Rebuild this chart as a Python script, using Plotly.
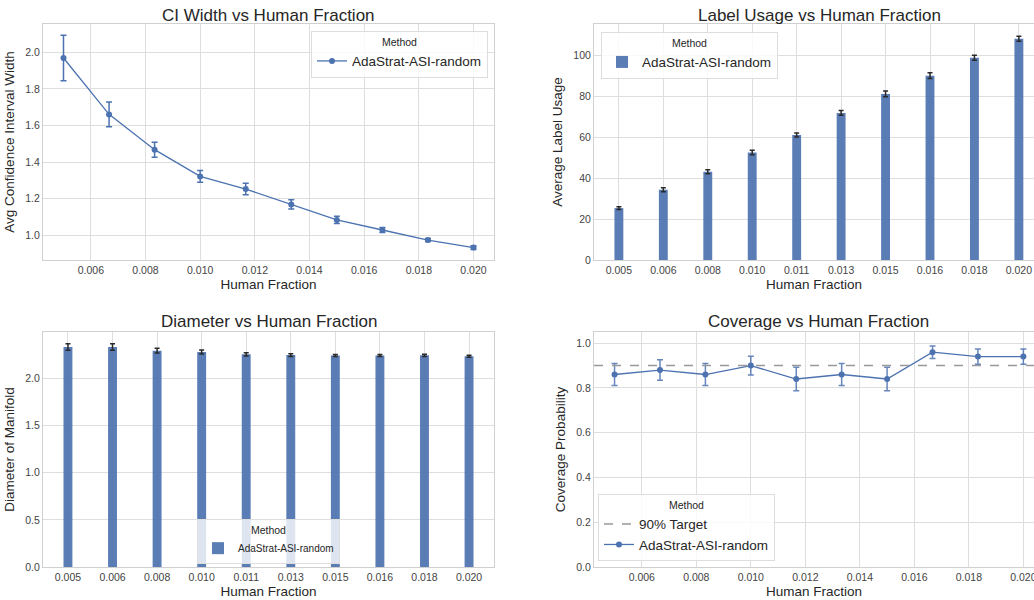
import plotly.graph_objects as go

W, H = 1034, 600

# ---------------- data ----------------
human_fraction = [0.005, 0.006667, 0.008333, 0.010, 0.011667, 0.013333, 0.015, 0.016667, 0.018333, 0.020]
bar_labels = ["0.005", "0.006", "0.008", "0.010", "0.011", "0.013", "0.015", "0.016", "0.018", "0.020"]
method = "AdaStrat-ASI-random"

ci_width = [1.969, 1.661, 1.468, 1.322, 1.253, 1.169, 1.084, 1.029, 0.974, 0.933]
ci_err = [0.124, 0.067, 0.041, 0.032, 0.032, 0.025, 0.020, 0.013, 0.008, 0.010]

label_usage = [25.4, 34.4, 43.2, 52.6, 61.2, 72.0, 81.3, 90.2, 99.0, 108.3]
label_err = [0.7, 1.0, 1.0, 1.1, 1.0, 1.2, 1.4, 1.4, 1.2, 1.2]

diameter = [2.335, 2.335, 2.296, 2.282, 2.257, 2.249, 2.245, 2.245, 2.247, 2.236]
diam_err = [0.035, 0.035, 0.025, 0.022, 0.018, 0.015, 0.010, 0.010, 0.012, 0.010]

coverage = [0.86, 0.88, 0.86, 0.90, 0.84, 0.86, 0.84, 0.96, 0.94, 0.94]
cov_err = [0.049, 0.046, 0.049, 0.042, 0.052, 0.049, 0.052, 0.028, 0.034, 0.034]
target = 0.9

# ---------------- style ----------------
FONT = "Liberation Sans, Arial, sans-serif"
TXT = "#262626"
GRID = "#dedede"
SPINE = "#d0d0d0"
BLUE = "#4c72b0"
BAR = "rgba(76,114,176,0.92)"

def px_x(a, b):
    return [a / W, min(b / W, 1.0)]

def px_y(top, bottom):
    return [1 - bottom / H, 1 - top / H]

fig = go.Figure()

# Panel 1: CI width
fig.add_trace(go.Scatter(
    x=human_fraction, y=ci_width, mode="lines+markers", name=method, showlegend=True,
    line=dict(color=BLUE, width=1.3), marker=dict(color=BLUE, size=6),
    error_y=dict(type="data", array=ci_err, color=BLUE, thickness=1.5, width=3),
    xaxis="x", yaxis="y", legend="legend"))

# Panel 2: label usage
fig.add_trace(go.Bar(
    x=bar_labels, y=label_usage, name=method, width=0.2, marker=dict(color=BAR, line=dict(width=0)),
    error_y=dict(type="data", array=label_err, color="#2a2a2a", thickness=1.5, width=2.5),
    xaxis="x2", yaxis="y2", legend="legend2"))

# Panel 3: diameter
fig.add_trace(go.Bar(
    x=bar_labels, y=diameter, name=method, width=0.2, marker=dict(color=BAR, line=dict(width=0)),
    error_y=dict(type="data", array=diam_err, color="#2a2a2a", thickness=1.5, width=2.5),
    xaxis="x3", yaxis="y3", legend="legend3"))

# Panel 4: coverage
fig.add_trace(go.Scatter(
    x=human_fraction, y=coverage, mode="lines+markers", name=method,
    line=dict(color=BLUE, width=1.3), marker=dict(color=BLUE, size=6),
    error_y=dict(type="data", array=cov_err, color="rgba(76,114,176,0.85)", thickness=1.5, width=3),
    xaxis="x4", yaxis="y4", legend="legend4", legendrank=2))

fig.add_shape(type="line", xref="x4 domain", yref="y4", x0=0, x1=1, y0=target, y1=target,
              line=dict(color="#999999", width=1.5, dash="dash"),
              showlegend=True, name="90% Target", legend="legend4", legendrank=1)

def xax(domain, anchor, **kw):
    d = dict(domain=domain, anchor=anchor, showgrid=True, gridcolor=GRID, gridwidth=1,
             showline=True, linecolor=SPINE, linewidth=1, mirror=True, ticks="",
             zeroline=False, automargin=False, ticklabeloverflow="allow",
             tickfont=dict(family=FONT, size=10.5, color="#444444"),
             title=dict(text="Human Fraction", font=dict(family=FONT, size=13.5, color=TXT), standoff=4))
    d.update(kw)
    return d

def yax(domain, anchor, title, mirror=True, **kw):
    d = dict(domain=domain, anchor=anchor, showgrid=True, gridcolor=GRID, gridwidth=1,
             showline=True, linecolor=SPINE, linewidth=1, mirror=mirror, ticks="",
             zeroline=False, automargin=False,
             tickfont=dict(family=FONT, size=10.5, color="#444444"),
             title=dict(text=title, font=dict(family=FONT, size=13.5, color=TXT), standoff=7))
    d.update(kw)
    return d

dx1 = px_x(43, 494)
dx2 = px_x(594, 1034)
dy_top = px_y(24, 260)
dy_bot = px_y(332, 567)

legend_common = dict(bgcolor="rgba(255,255,255,0.8)", bordercolor="#dddddd", borderwidth=1,
                     font=dict(family=FONT, size=13.5, color=TXT),
                     title=dict(text="Method", side="top center", font=dict(family=FONT, size=10.5, color=TXT)))

fig.update_layout(
    width=W, height=H, showlegend=True,
    margin=dict(l=0, r=0, t=0, b=0),
    paper_bgcolor="white", plot_bgcolor="white",
    font=dict(family=FONT, color=TXT),
    xaxis=xax(dx1, "y", range=[0.00425, 0.02075], tick0=0.006, dtick=0.002, tickformat=".3f"),
    yaxis=yax(dy_top, "x", "Avg Confidence Interval Width", range=[0.865, 2.155], tick0=1.0, dtick=0.2, tickformat=".1f"),
    xaxis2=xax(dx2, "y2", type="category", range=[-0.56, 9.34]),
    yaxis2=yax(dy_top, "x2", "Average Label Usage", mirror=False, range=[0, 115.5], dtick=20),
    xaxis3=xax(dx1, "y3", type="category", range=[-0.56, 9.56]),
    yaxis3=yax(dy_bot, "x3", "Diameter of Manifold", range=[0, 2.494], dtick=0.5, tickformat=".1f"),
    xaxis4=xax(dx2, "y4", range=[0.004246, 0.02039], tick0=0.006, dtick=0.002, tickformat=".3f"),
    yaxis4=yax(dy_bot, "x4", "Coverage Probability", mirror=False, range=[0, 1.05], dtick=0.2, tickformat=".1f"),
    legend=dict(x=488 / W, y=1 - 31 / H, xanchor="right", yanchor="top", **legend_common),
    legend2=dict(x=601 / W, y=1 - 32 / H, xanchor="left", yanchor="top", **legend_common),
    legend3=dict(x=268.5 / W, y=1 - 564 / H, xanchor="center", yanchor="bottom",
                 **{**legend_common, "font": dict(family=FONT, size=10, color=TXT),
                    "title": dict(text="Method", side="top center", font=dict(family=FONT, size=10.5, color=TXT))}),
    legend4=dict(x=598 / W, y=1 - 561 / H, xanchor="left", yanchor="bottom", **legend_common),
)

titles = [("CI Width vs Human Fraction", 268.5, 15),
          ("Label Usage vs Human Fraction", 819, 15),
          ("Diameter vs Human Fraction", 268.5, 321),
          ("Coverage vs Human Fraction", 818, 321)]
for text, cx, cy in titles:
    fig.add_annotation(text=text, x=cx / W, y=1 - cy / H, xref="paper", yref="paper",
                       xanchor="center", yanchor="middle", showarrow=False,
                       font=dict(family=FONT, size=17, color=TXT))

fig.write_html("out.html", config={"displayModeBar": False},
               post_script="document.body.style.margin='0';document.body.style.padding='0';document.body.style.overflow='hidden';")
